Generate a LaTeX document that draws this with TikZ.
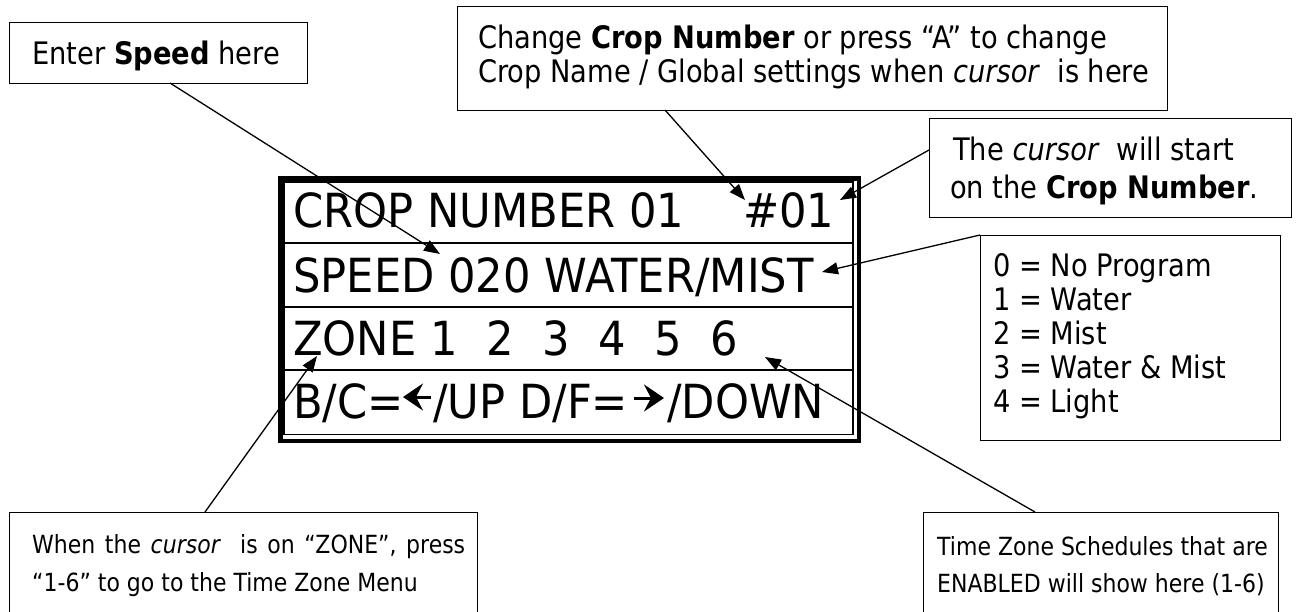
\documentclass[tikz,border=0pt]{standalone}
\usepackage{fontspec}
\usetikzlibrary{arrows.meta}
\newfontfamily\callf[FakeStretch=0.88]{DejaVu Sans}
\newfontfamily\lcdf[FakeStretch=0.92]{DejaVu Sans}
\begin{document}
\begin{tikzpicture}[x=1pt,y=-1pt,
  box/.style={draw, line width=1.3pt, inner sep=0pt, anchor=north west},
  lead/.style={line width=1.3pt, -{Triangle[length=16pt,width=12pt]}},
  ct/.style={anchor=base west, inner sep=0pt, font=\callf\fontsize{31}{34}\selectfont},
  bt/.style={anchor=base west, inner sep=0pt, font=\callf\fontsize{25}{30}\selectfont},
  lt/.style={anchor=base west, inner sep=0pt, font=\lcdf\fontsize{47}{56}\selectfont},
  glyph/.style={line width=3pt, -{Stealth[length=20pt,width=27pt,inset=7pt]}}]
\useasboundingbox (0,0) rectangle (1301,611);
\clip (0,0) rectangle (1301,611);
% ---------------- LCD ----------------
\node[draw, line width=4.5pt, minimum width=578.4pt, minimum height=262.5pt, inner sep=0pt, anchor=north west] (lcd) at (278.3,176) {};
\node[draw, line width=1.8pt, minimum width=568.4pt, minimum height=252.5pt, inner sep=0pt, anchor=north west] (lcdin) at (283.3,181) {};
\draw[line width=1.8pt] (283.3,243) -- (851.7,243);
\draw[line width=1.8pt] (283.3,307) -- (851.7,307);
\draw[line width=1.8pt] (283.3,370) -- (851.7,370);
\node[lt] (r1a) at (293,227) {CROP NUMBER 01};
\node[lt] (r1b) at (743,227) {\#01};
\node[lt] (r2) at (293,292) {SPEED 020 WATER/MIST};
\node[lt] (r3) at (293,355) {ZONE};
\node[lt] (z1) at (430,355) {1};
\node[lt] (z2) at (486,355) {2};
\node[lt] (z3) at (542,355) {3};
\node[lt] (z4) at (598,355) {4};
\node[lt] (z5) at (654,355) {5};
\node[lt] (z6) at (710,355) {6};
\node[lt] (r4a) at (293,418) {B/C=};
\draw[glyph] (431,397) -- (403,397);
\node[lt] (r4b) at (433,418) {/UP D/F=};
\draw[glyph] (634,398) -- (664,398);
\node[lt] (r4c) at (667,418) {/DOWN};
% ---------------- callout boxes ----------------
\node[box, minimum width=298pt, minimum height=61pt] (speedbox) at (9,22) {};
\node[ct] (speedtxt) at (32,64) {Enter \textbf{Speed} here};

\node[box, minimum width=710pt, minimum height=104pt] (cropbox) at (457,6) {};
\node[ct] (crop1) at (478,48) {Change \textbf{Crop Number} or press “A” to change};
\node[ct] (crop2) at (478,82) {Crop Name / Global settings when \textit{cursor}\ \ is here};

\node[box, minimum width=362pt, minimum height=99pt] (curbox) at (929,118) {};
\node[ct] (cur1) at (953,160) {The \textit{cursor}\ \ will start};
\node[ct] (cur2) at (950,198) {on the \textbf{Crop Number}.};

\node[box, minimum width=300pt, minimum height=205pt] (legbox) at (980,235) {};
\node[ct] (leg0) at (993,276) {0 = No Program};
\node[ct] (leg1) at (993,310) {1 = Water};
\node[ct] (leg2) at (993,344) {2 = Mist};
\node[ct] (leg3) at (993,378) {3 = Water \& Mist};
\node[ct] (leg4) at (993,412) {4 = Light};

\node[box, minimum width=468pt, minimum height=130pt] (zonebox) at (9,512) {};
\node[bt] (zone1) at (32,553) {\makebox[433pt][s]{When the \textit{cursor}\ \ is on “ZONE”, press}};
\node[bt] (zone2) at (32,591) {“1-6” to go to the Time Zone Menu};

\node[box, minimum width=355pt, minimum height=130pt] (schbox) at (923,512) {};
\node[bt] (sch1) at (937,555) {Time Zone Schedules that are};
\node[bt] (sch2) at (937,592) {ENABLED will show here (1-6)};
% ---------------- leaders ----------------
\coordinate (speedL) at (170,83);   \coordinate (speedT) at (440,254);
\coordinate (cropL) at (665,110);   \coordinate (cropT) at (745,200);
\coordinate (curL) at (929,150);    \coordinate (curT) at (840,200);
\coordinate (legL) at (980,235);    \coordinate (legT) at (822,272);
\coordinate (zoneL) at (205,512);   \coordinate (zoneT) at (317,356);
\coordinate (schL) at (1035,512);   \coordinate (schT) at (765,357);
\draw[lead] (speedL) -- (speedT);
\draw[lead] (cropL) -- (cropT);
\draw[lead] (curL) -- (curT);
\draw[lead] (legL) -- (legT);
\draw[lead] (zoneL) -- (zoneT);
\draw[lead] (schL) -- (schT);
\end{tikzpicture}
\end{document}
